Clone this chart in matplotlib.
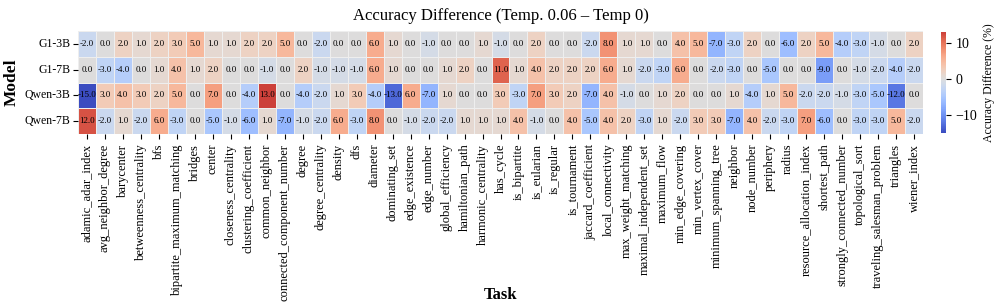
import numpy as np
import matplotlib
matplotlib.use("Agg")
import matplotlib.pyplot as plt
import seaborn as sns

plt.rcParams['font.family'] = ['Liberation Serif', 'DejaVu Serif']

tasks = ["adamic_adar_index", "avg_neighbor_degree", "barycenter", "betweenness_centrality", "bfs",
         "bipartite_maximum_matching", "bridges", "center", "closeness_centrality", "clustering_coefficient",
         "common_neighbor", "connected_component_number", "degree", "degree_centrality", "density", "dfs",
         "diameter", "dominating_set", "edge_existence", "edge_number", "global_efficiency",
         "hamiltonian_path", "harmonic_centrality", "has_cycle", "is_bipartite", "is_eularian",
         "is_regular", "is_tournament", "jaccard_coefficient", "local_connectivity", "max_weight_matching",
         "maximal_independent_set", "maximum_flow", "min_edge_covering", "min_vertex_cover",
         "minimum_spanning_tree", "neighbor", "node_number", "periphery", "radius",
         "resource_allocation_index", "shortest_path", "strongly_connected_number", "topological_sort",
         "traveling_salesman_problem", "triangles", "wiener_index"]
models = ["G1-3B", "G1-7B", "Qwen-3B", "Qwen-7B"]

g1_3b = [-2, 0, 2, 1, 2, 3, 5, 1, 1, 2, 2, 5, 0, -2, 0, 0, 6, 1, 0, -1, 0, 0, 1, -1, 0, 2, 0, 0,
         -2, 8, 1, 1, 0, 4, 5, -7, -3, 2, 0, -6, 2, 5, -4, -3, -1, 0, 2]
g1_7b = [0, -3, -4, 0, 1, 4, 1, 2, 0, 0, -1, 0, 2, -1, -1, -1, 6, 1, 0, 0, 1, 2, 0, 11, 1, 4, 2, 2,
         2, 6, 1, -2, -3, 6, 0, -2, -3, 0, -5, 0, 0, -9, 0, -1, -2, -4, -2]
qwen_3b = [-15, 3, 4, 3, 2, 5, 0, 7, 0, -4, 13, 0, -4, -2, 1, 3, -4, -13, 6, -7, 1, 0, 0, 3, -3, 7,
           3, 2, -7, 4, -1, 0, 1, 2, 0, 0, 1, -4, 1, 5, -2, -2, -1, -3, -5, -12, 0]
qwen_7b = [12, -2, 1, -2, 6, -3, 0, -5, -1, -6, 1, -7, -1, -2, 6, -3, 8, 0, -1, -2, -2, 1, 1, 1, 4,
           -1, 0, 4, -5, 4, 2, -3, 1, -2, 3, 3, -7, 4, -2, -3, 7, -6, 0, -3, -3, 5, -2]

data = np.array([g1_3b, g1_7b, qwen_3b, qwen_7b], dtype=float)

fig = plt.figure(figsize=(9.97, 3.08), dpi=100)
ax = fig.add_axes([78/997, 174/308, 845/997, 103/308])
cax = fig.add_axes([941/997, 175/308, 5/997, 101/308])

sns.heatmap(data, ax=ax, cbar_ax=cax, cmap="coolwarm", center=0, annot=True, fmt=".1f",
            annot_kws={"size": 6.5, "color": "black"}, linewidths=0.4, linecolor="#eeeeee",
            xticklabels=tasks, yticklabels=models,
            cbar_kws={"label": "Accuracy Difference (%)"})

ax.set_xticklabels(tasks, rotation=90, fontsize=9)
ax.set_yticklabels(models, rotation=0, fontsize=8.5)
ax.tick_params(axis="y", pad=2)
ax.set_xlabel("Task", fontsize=12, fontweight="bold")
ax.set_ylabel("Model", fontsize=12.5, fontweight="bold")
ax.xaxis.set_label_coords(0.5, -1.49)
ax.yaxis.set_label_coords(-0.069, 0.5)
ax.set_title("Accuracy Difference (Temp. 0.06 – Temp 0)", fontsize=12, pad=8)
cax.tick_params(labelsize=10)
cax.yaxis.label.set_size(8.5)
for s in cax.spines.values():
    s.set_visible(False)

plt.savefig("out.png", dpi=100)
